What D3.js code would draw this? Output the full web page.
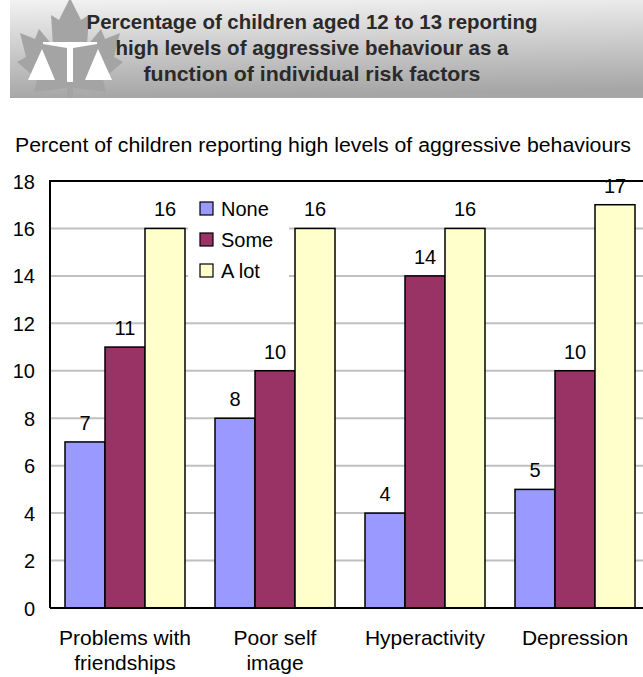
<!DOCTYPE html>
<html><head><meta charset="utf-8">
<script src="https://cdn.jsdelivr.net/npm/d3@7"></script>
<style>body{margin:0;background:#fff}svg{display:block}</style>
</head><body>
<svg id="c" width="643" height="677"></svg>
<script>
const categories = [["Problems with","friendships"],["Poor self","image"],["Hyperactivity"],["Depression"]];
const seriesNames = ["None","Some","A lot"];
const noneVals = [7, 8, 4, 5];
const someVals = [11, 10, 14, 10];
const aLotVals = [16, 16, 16, 17];
const yTicks = [0,2,4,6,8,10,12,14,16,18];
const colors = ["#9999ff","#993366","#ffffcc"];
const titleLines = ["Percentage of children aged 12 to 13 reporting","high levels of aggressive behaviour as a","function of individual risk factors"];
const subtitle = "Percent of children reporting high levels of aggressive behaviours";

// layout (not data)
const titleWidths = [451, 393, 337];
const FONT = "'Liberation Sans',Arial,sans-serif";
const FS = 20;

const svg = d3.select("#c");
const defs = svg.append("defs");
const g1 = defs.append("linearGradient").attr("id","bg").attr("x1",0).attr("y1",0).attr("x2",0.1).attr("y2",1);
g1.append("stop").attr("offset","0%").attr("stop-color","#f2f2f2");
g1.append("stop").attr("offset","100%").attr("stop-color","#a6a6a6");
svg.append("rect").attr("x",10).attr("y",0).attr("width",633).attr("height",98).attr("fill","url(#bg)");

// logo: maple leaf + scales
const logo = svg.append("g").attr("transform","translate(70,0)");
logo.append("path").attr("fill","#a4a4a4")
  .attr("d","M0,-2 L11,20 L19,15 L17,46 L31,29 L35,39 L50,33 L44,57 L53,62 L33,79 L36,92 L3,88 L3,98 L-3,98 L-3,88 L-36,92 L-33,79 L-53,62 L-44,57 L-50,33 L-35,39 L-31,29 L-17,46 L-19,15 L-11,20 Z");
logo.append("path").attr("fill","#fff").attr("d","M-27,42 L27,42 L27,44 L3,48 L3,82 L-3,82 L-3,48 L-27,44 Z");
logo.append("path").attr("fill","#fff").attr("d","M-28,49 L-15,80 L-42,80 Z");
logo.append("path").attr("fill","#fff").attr("d","M28,49 L42,80 L15,80 Z");

svg.append("g").selectAll("text").data(titleLines).join("text")
  .attr("x",312).attr("y",(d,i)=>29+i*26).attr("text-anchor","middle")
  .attr("font-family",FONT).attr("font-weight","bold").attr("font-size",21)
  .attr("textLength",(d,i)=>titleWidths[i]).attr("lengthAdjust","spacingAndGlyphs")
  .attr("fill","#2a2a2a").text(d=>d);

svg.append("text").attr("x",323).attr("y",152).attr("text-anchor","middle")
  .attr("font-family",FONT).attr("font-size",FS).attr("textLength",616).attr("lengthAdjust","spacingAndGlyphs")
  .attr("fill","#000").text(subtitle);

const m = {l:50, t:181, r:650, b:608};
const x0 = d3.scaleBand().domain(d3.range(categories.length)).range([m.l,m.r]).paddingInner(0.2).paddingOuter(0.1);
const x1 = d3.scaleBand().domain(d3.range(3)).range([0,x0.bandwidth()]);
const y = d3.scaleLinear().domain([0,18]).range([m.b,m.t]);

// gridlines
svg.append("g").selectAll("line").data(yTicks.filter(t=>t>0 && t<18)).join("line")
  .attr("x1",m.l).attr("x2",m.r).attr("y1",d=>y(d)).attr("y2",d=>y(d))
  .attr("stroke","#c0c0c0").attr("stroke-width",2);

const yAxis = svg.append("g").attr("transform",`translate(${m.l},0)`)
  .call(d3.axisLeft(y).tickValues(yTicks).tickSize(0).tickPadding(15));
yAxis.select(".domain").remove();
yAxis.selectAll("text").attr("font-family",FONT).attr("font-size",FS).attr("fill","#000").attr("dy","0.35em");

const data = categories.map((c,i)=>[noneVals[i],someVals[i],aLotVals[i]]);
const grp = svg.append("g").selectAll("g").data(data).join("g")
  .attr("transform",(d,i)=>`translate(${x0(i)},0)`);
grp.selectAll("rect").data(d=>d).join("rect")
  .attr("x",(d,j)=>x1(j)).attr("width",x1.bandwidth())
  .attr("y",d=>y(d)).attr("height",d=>y(0)-y(d))
  .attr("fill",(d,j)=>colors[j]).attr("stroke","#000").attr("stroke-width",1.5);
grp.selectAll("text").data(d=>d).join("text")
  .attr("x",(d,j)=>x1(j)+x1.bandwidth()/2).attr("y",d=>y(d)-12)
  .attr("text-anchor","middle").attr("font-family",FONT)
  .attr("font-size",FS).attr("fill","#000").text(d=>d);

// frame
svg.append("path").attr("d",`M${m.l},${m.b} L${m.l},${m.t} L${m.r},${m.t}`).attr("fill","none").attr("stroke","#000").attr("stroke-width",2);
svg.append("line").attr("x1",m.l).attr("x2",m.r).attr("y1",m.b).attr("y2",m.b).attr("stroke","#000").attr("stroke-width",2);

// category labels
const cl = svg.append("g").selectAll("text").data(categories).join("text")
  .attr("x",(d,i)=>x0(i)+x0.bandwidth()/2).attr("y",645)
  .attr("text-anchor","middle").attr("font-family",FONT)
  .attr("font-size",21).attr("fill","#000");
cl.selectAll("tspan").data(d=>d).join("tspan")
  .attr("x",function(){return this.parentNode.getAttribute("x");})
  .attr("dy",(d,i)=>i?25:0).text(d=>d);

// legend
const lg = svg.append("g").attr("transform","translate(188,192)");
lg.append("rect").attr("x",0).attr("y",0).attr("width",101).attr("height",96).attr("fill","#fff");
const li = lg.selectAll("g").data(seriesNames).join("g").attr("transform",(d,i)=>`translate(12,${10+i*31})`);
li.append("rect").attr("width",13).attr("height",13).attr("fill",(d,i)=>colors[i]).attr("stroke","#000").attr("stroke-width",1.2);
li.append("text").attr("x",21).attr("y",7).attr("dy","0.35em").attr("font-family",FONT)
  .attr("font-size",FS).attr("fill","#000").text(d=>d);
</script>
</body></html>
